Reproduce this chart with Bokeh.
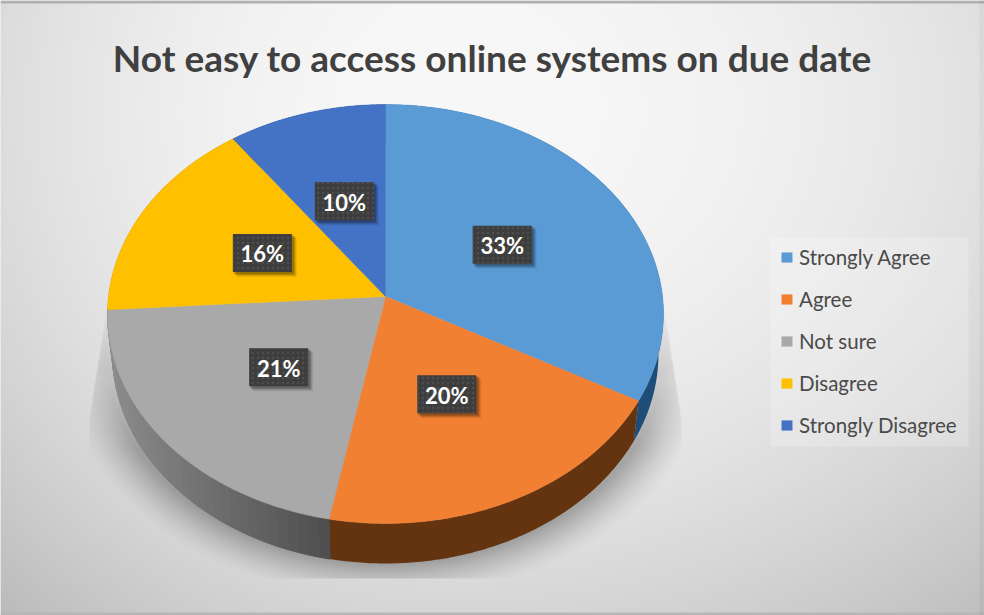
import numpy as np
from bokeh.core.properties import value
from bokeh.embed import file_html
from bokeh.models import Legend, LegendItem
from bokeh.plotting import figure
from bokeh.resources import INLINE

TITLE = "Not easy to access online systems on due date"
categories = ["Strongly Agree", "Agree", "Not sure", "Disagree", "Strongly Disagree"]
shares = [33, 20, 21, 16, 10]
top_colors = ["#5b9bd5", "#f28032", "#a9a9a9", "#ffc000", "#4472c4"]
side_colors = ["#1d4d78", "#63340f", "#5a5a5a", "#8a6a00", "#2a4478"]

W, H = 984, 615
CX, CY = 385.0, 296.0      # projected pie centre
RX, RY = 277.0, 208.0      # in-plane radii
TILT = 0.0835              # perspective strength
DEPTH = 40.0               # height of the pie's side wall
FOOT = 0.982               # the lower rim is slightly narrower than the upper one


def project(frac, radius=1.0, drop=0.0, xscale=1.0):
    """Map a clockwise-from-top pie fraction onto the tilted disc."""
    a = 2 * np.pi * np.asarray(frac, dtype=float)
    u, v = radius * np.sin(a), -radius * np.cos(a)
    w = 1 - TILT * v
    return CX + xscale * RX * u / w, CY + RY * v / w + drop


def backdrop():
    """Soft page gradient with the pie's drop shadow baked in."""
    yy, xx = np.mgrid[0:H, 0:W] + 0.5
    sx = np.where(xx < 450, 480.0, 620.0)
    d2 = ((xx - 450) / sx) ** 2 + ((yy - 110) / 480) ** 2
    grey = 248 - 31 * d2

    # shadow: the pie outline pushed down, fading outwards from the wall
    e = np.sqrt(((xx - CX) / 279) ** 2 + ((yy - 353) / 210) ** 2)
    reach = 1.17
    fade = np.clip((reach - e) / (reach - 1.0), 0, 1) ** 1.4
    ramp = np.clip((yy - 300) / 70, 0, 1)
    fade = fade * (0.45 + 0.55 * np.clip((yy - 380) / 70, 0, 1)) * ramp
    limit = 279 + 17 * np.clip((yy - 310) / 110, 0, 1)
    fade = np.where(np.abs(xx - CX) > limit, 0, fade)
    fade = np.where(yy > 578, 0, fade)
    grey = grey * (1 - 0.28 * fade)

    # thin frame left by the surrounding slide
    grey[:3, :] = 176
    grey[-3:, :] = 182
    grey[:, -5:] -= 8

    g = np.clip(grey, 0, 255).astype(np.uint32)
    return (255 << 24) | (g << 16) | (g << 8) | g


p = figure(
    width=W, height=H, x_range=(0, W), y_range=(H, 0),
    output_backend="svg", toolbar_location=None, min_border=0,
    x_axis_type=None, y_axis_type=None, outline_line_color=None,
    background_fill_color="#e6e6e6", border_fill_color="#e6e6e6",
)
p.grid.visible = False

p.image_rgba(image=[backdrop()], x=0, y=0, dw=W, dh=H)

# wedge boundaries as cumulative fractions of the total
total = sum(shares)
edges = np.cumsum([0] + shares) / total

# side wall: one polygon per slice; the grey slice is split to shade it left to right
for i in range(len(shares)):
    if i == 2:
        n = 36
        t = np.linspace(edges[i], edges[i + 1], n + 1)
        x0, y0 = project(t)
        x1, y1 = project(t, drop=DEPTH, xscale=FOOT)
        xs, ys, cs = [], [], []
        for j in range(n):
            f = np.clip((x0[j] - 110) / 225, 0, 1)
            c = int(140 - 62 * f)
            col = f"#{c:02x}{c:02x}{c:02x}"
            xs.append([x0[j], x0[j + 1], x1[j + 1], x1[j]])
            ys.append([y0[j], y0[j + 1], y1[j + 1], y1[j]])
            cs.append(col)
        p.patches(xs, ys, fill_color=cs, line_color=cs, line_width=1)
    else:
        t = np.linspace(edges[i], edges[i + 1], 120)
        x0, y0 = project(t)
        x1, y1 = project(t, drop=DEPTH, xscale=FOOT)
        p.patch(np.r_[x0, x1[::-1]], np.r_[y0, y1[::-1]], fill_color=side_colors[i], line_color=None)

# top faces
legend_items = []
for i, cat in enumerate(categories):
    t = np.linspace(edges[i], edges[i + 1], 120)
    x, y = project(t)
    r = p.patch(np.r_[CX, x], np.r_[CY, y], fill_color=top_colors[i], line_color=top_colors[i], line_width=0.5)
    legend_items.append(LegendItem(label=cat, renderers=[r]))

# value labels sit at half radius along each wedge's middle
mids = (edges[:-1] + edges[1:]) / 2
lx, ly = project(mids, 0.5)
BW, BH = 59, 38
for off, alpha in ((5, 0.07), (4, 0.10), (3, 0.14), (2, 0.16)):
    p.quad(left=lx - BW / 2 + off - 1, right=lx + BW / 2 + off, top=ly - BH / 2 + off - 1, bottom=ly + BH / 2 + off,
           fill_color="black", fill_alpha=alpha, line_color=None)
p.quad(left=lx - BW / 2, right=lx + BW / 2, top=ly - BH / 2, bottom=ly + BH / 2,
       fill_color="#3d3d3d", line_color=None,
       hatch_pattern="dot", hatch_color="#4e4e4e", hatch_scale=5, hatch_weight=1)
p.text(lx, ly + 1, text=[f"{s}%" for s in shares], text_color="white",
       text_font=value("Lato"), text_font_style="bold", text_font_size="22px",
       text_align="center", text_baseline="middle")

p.text([492], [57], text=[TITLE], text_color="#404040", text_font=value("Lato"),
       text_font_style="bold", text_font_size="37px", text_align="center",
       text_baseline="alphabetic")

# legend panel
p.quad(left=[770], right=[968], top=[237], bottom=[446], fill_color="white", fill_alpha=0.22, line_color=None)
legend = Legend(
    items=legend_items, location=(780, H - 437), orientation="vertical",
    background_fill_alpha=0, border_line_color=None, margin=0, padding=9, spacing=18,
    label_text_font="Lato", label_text_font_size="20.5px", label_text_color="#4a4a4a",
    label_height=24, glyph_width=13, glyph_height=12, label_standoff=6,
)
p.add_layout(legend, "center")

open("out.html", "w").write(file_html(p, INLINE))
